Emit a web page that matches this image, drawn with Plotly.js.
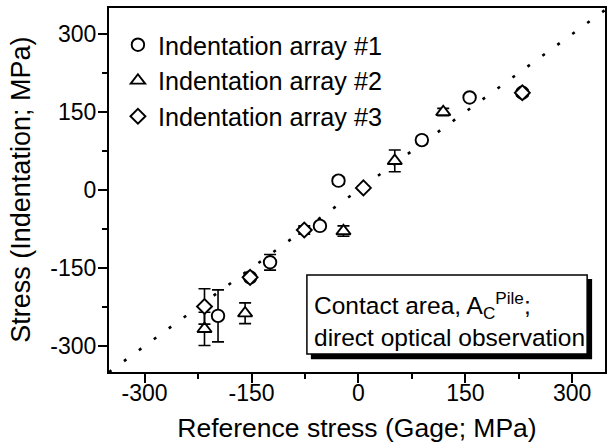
<!DOCTYPE html>
<html>
<head>
<meta charset="utf-8">
<script src="https://cdn.plot.ly/plotly-3.0.1.min.js"></script>
<style>html,body{margin:0;padding:0;background:#fff;}#chart{width:608px;height:446px;}</style>
</head>
<body>
<div id="chart"></div>
<script>
// Indentation array #1 (circles)
const array1X = [-197, -152, -124, -54, -28, 89, 156, 230];
const array1Y = [-242, -168, -139, -69, 18, 96, 178, 187];
const array1Err = [50, 5, 15, 6, 7, 7, 5, 5];
const array1ErrX = [0, 0, 0, 0, 6, 6, 0, 0];
// Indentation array #2 (triangles)
const array2X = [-216, -159, -21, 51, 119];
const array2Y = [-267, -237, -79, 56, 150];
const array2Err = [32, 20, 10, 21, 7];
// Indentation array #3 (diamonds)
const array3X = [-216, -152, -76, 7, 230];
const array3Y = [-224, -168, -77, 4, 187];
const array3Err = [34, 6, 8, 4, 6];
const array3ErrX = [0, 0, 7, 0, 0];
// reference line y = x
const refLineX = [-350, 350];
const refLineY = [-350, 350];

const seriesNames = ['Indentation array #1', 'Indentation array #2', 'Indentation array #3'];
const xTicks = [-300, -150, 0, 150, 300];
const yTicks = [-300, -150, 0, 150, 300];
const xTitle = 'Reference stress (Gage; MPa)';
const yTitle = 'Stress (Indentation; MPa)';

const FONT = 'Liberation Sans, Arial, Helvetica, sans-serif';

function errY(arr) {
  return {type: 'data', array: arr, visible: true, color: '#000', thickness: 1.6, width: 6};
}
function errX(arr) {
  return {type: 'data', array: arr, visible: true, color: '#000', thickness: 1.6, width: 4};
}

const traces = [
  {
    x: refLineX, y: refLineY, mode: 'lines', showlegend: false, hoverinfo: 'skip',
    line: {color: '#000', width: 2.6, dash: '3px,15.5px'}
  },
  {
    x: array1X, y: array1Y, name: seriesNames[0], mode: 'markers', type: 'scatter',
    error_y: errY(array1Err), error_x: errX(array1ErrX),
    marker: {symbol: 'circle', size: 12.5, color: '#fff', line: {color: '#000', width: 1.9}}
  },
  {
    x: array2X, y: array2Y, name: seriesNames[1], mode: 'markers', type: 'scatter',
    error_y: errY(array2Err),
    marker: {symbol: 'triangle-up', size: 12.5, color: '#fff', line: {color: '#000', width: 1.9}}
  },
  {
    x: array3X, y: array3Y, name: seriesNames[2], mode: 'markers', type: 'scatter',
    error_y: errY(array3Err), error_x: errX(array3ErrX),
    marker: {symbol: 'diamond', size: 11.5, color: '#fff', line: {color: '#000', width: 1.9}}
  }
];

const axisCommon = {
  showgrid: false, zeroline: false, showline: true, linecolor: '#000', linewidth: 2,
  mirror: true, ticks: 'outside', ticklen: 9, tickwidth: 2, tickcolor: '#000',
  tickfont: {family: FONT, size: 23, color: '#000'},
  minor: {ticks: 'outside', ticklen: 5, tickwidth: 1.5, tickcolor: '#000', dtick: 75}
};

const layout = {
  width: 608, height: 446,
  margin: {l: 109, r: 3, t: 8, b: 74},
  paper_bgcolor: '#fff', plot_bgcolor: '#fff',
  font: {family: FONT, color: '#000'},
  xaxis: Object.assign({}, axisCommon, {
    range: [-350, 346], tickvals: xTicks, ticktext: xTicks.map(String),
    ticklabelstandoff: -10,
    title: {text: xTitle, font: {family: FONT, size: 26.5, color: '#000'}, standoff: 14}
  }),
  yaxis: Object.assign({}, axisCommon, {
    range: [-350, 350], tickvals: yTicks, ticktext: yTicks.map(String),
    ticklabelstandoff: -3
  }),
  showlegend: true,
  legend: {
    x: 0.018, xanchor: 'left', y: 0.962, yanchor: 'top',
    bgcolor: 'rgba(0,0,0,0)', borderwidth: 0,
    font: {family: FONT, size: 25.2, color: '#000'},
    tracegroupgap: 0
  },
  shapes: [
    {type: 'rect', xref: 'paper', yref: 'paper', x0: 0.409, x1: 0.972, y0: 0.038, y1: 0.253,
     fillcolor: 'black', opacity: 1, line: {color: 'black', width: 2}, layer: 'above'},
    {type: 'rect', xref: 'paper', yref: 'paper', x0: 0.399, x1: 0.964, y0: 0.0495, y1: 0.2665,
     fillcolor: 'white', opacity: 1, line: {color: 'black', width: 1.5}, layer: 'above'}
  ],
  annotations: [
    {xref: 'paper', yref: 'paper', x: 0.409, y: 0.143, xanchor: 'left', yanchor: 'middle', align: 'left',
     showarrow: false,
     text: 'Contact area, A<sub>C</sub><sup>Pile</sup>;<br>direct optical observation',
     font: {family: FONT, size: 24.5, color: '#000'}},
    {xref: 'paper', yref: 'paper', x: -0.178, y: 0.5, xanchor: 'center', yanchor: 'middle',
     showarrow: false, textangle: -90, text: yTitle,
     font: {family: FONT, size: 27, color: '#000'}}
  ]
};

Plotly.newPlot('chart', traces, layout, {staticPlot: true, displayModeBar: false});
</script>
</body>
</html>
